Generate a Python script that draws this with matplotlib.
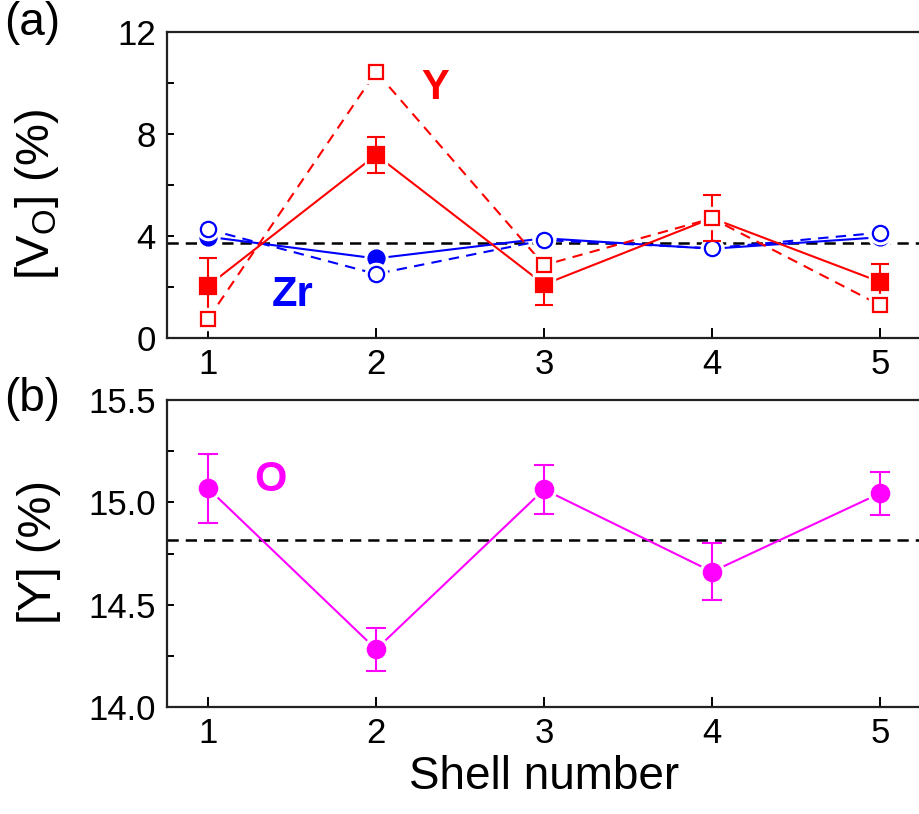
import matplotlib
matplotlib.use("Agg")
import matplotlib.pyplot as plt
from matplotlib.ticker import MultipleLocator, FormatStrFormatter

plt.rcParams['font.family'] = ['Liberation Sans', 'DejaVu Sans']
plt.rcParams['mathtext.fontset'] = 'custom'
plt.rcParams['mathtext.rm'] = 'Liberation Sans'

shells = [1, 2, 3, 4, 5]

y_filled = [2.05, 7.18, 2.1, 4.7, 2.2]
y_filled_err = [1.09, 0.71, 0.8, 0.9, 0.7]
y_open = [0.75, 10.44, 2.86, 4.69, 1.29]
zr_filled = [3.97, 3.12, 3.91, 3.5, 3.95]
zr_open = [4.26, 2.51, 3.84, 3.52, 4.13]
vo_mean = 3.71

o_vals = [15.068, 14.282, 15.063, 14.661, 15.044]
o_err = [0.168, 0.105, 0.12, 0.139, 0.105]
o_mean = 14.816

RED = '#ff0000'
BLUE = '#0000ff'
MAG = '#ff00ff'

fig = plt.figure(figsize=(9.19, 8.14), dpi=100)
ax1 = fig.add_axes([167/919, 1-338/814, (922-167)/919, 306/814])
ax2 = fig.add_axes([167/919, 1-707/814, (922-167)/919, 307/814])


def series(ax, x, y, color, marker, ms, filled, ls, err=None, cap=6, z=2):
    ax.plot(x, y, color=color, lw=1.5, ls=ls, dashes=(5, 3.5) if ls == '--' else (None, None), zorder=z)
    # white halo to create gaps around markers
    ax.plot(x, y, ls='none', marker=marker, ms=ms + 5, mfc='white', mec='white', zorder=z + 0.1)
    if err is not None:
        ax.errorbar(x, y, yerr=err, fmt='none', ecolor=color, elinewidth=1.5,
                    capsize=cap, capthick=1.5, zorder=z + 0.2)
    ax.plot(x, y, ls='none', marker=marker, ms=ms,
            mfc=color if filled else 'white', mec=color, mew=1.6, zorder=z + 0.3)


# Panel (a)
ax1.axhline(vo_mean, color='black', lw=1.8, ls=(0, (4.5, 2.8)), zorder=1)
series(ax1, shells, zr_filled, BLUE, 'o', 11.5, True, '-', z=2)
series(ax1, shells, zr_open, BLUE, 'o', 11, False, '--', z=3)
series(ax1, shells, y_filled, RED, 's', 11.5, True, '-', err=y_filled_err, cap=6.5, z=4)
series(ax1, shells, y_open, RED, 's', 10.5, False, '--', z=5)

ax1.set_xlim(0.755, 5.25)
ax1.set_ylim(0, 12)
ax1.yaxis.set_major_locator(MultipleLocator(4))
ax1.yaxis.set_minor_locator(MultipleLocator(2))
ax1.set_xticks(shells)
ax1.set_ylabel(r'[V$_\mathrm{O}$] (%)', fontsize=34)
ax1.yaxis.set_label_coords(-0.14, 0.47)
ax1.text(2.35, 9.8, 'Y', color=RED, fontsize=30, fontweight='bold', ha='center', va='center')
ax1.text(1.5, 1.69, 'Zr', color=BLUE, fontsize=30, fontweight='bold', ha='center', va='center')

# Panel (b)
ax2.axhline(o_mean, color='black', lw=1.8, ls=(0, (4.5, 2.8)), zorder=1)
series(ax2, shells, o_vals, MAG, 'o', 12.5, True, '-', err=o_err, cap=7.5, z=2)
ax2.set_xlim(0.755, 5.25)
ax2.set_ylim(14.0, 15.5)
ax2.yaxis.set_major_locator(MultipleLocator(0.5))
ax2.yaxis.set_minor_locator(MultipleLocator(0.25))
ax2.yaxis.set_major_formatter(FormatStrFormatter('%.1f'))
ax2.set_xticks(shells)
ax2.set_ylabel('[Y] (%)', fontsize=34)
ax2.yaxis.set_label_coords(-0.14, 0.505)
ax2.set_xlabel('Shell number', fontsize=33, labelpad=4)
ax2.text(1.37, 15.107, 'O', color=MAG, fontsize=30, fontweight='bold', ha='center', va='center')

for ax in (ax1, ax2):
    for s in ax.spines.values():
        s.set_linewidth(1.6)
        s.set_color('#222222')
    ax.tick_params(axis='both', which='both', direction='in', labelsize=25,
                   width=1.4, top=False, right=False)
    ax.tick_params(axis='x', which='major', length=7, pad=7)
    ax.tick_params(axis='y', which='major', length=5, pad=8)
    ax.tick_params(axis='y', which='minor', length=5)
    ax.tick_params(axis='x', which='minor', bottom=False)

fig.text(0.004, 1 - 1/814, '(a)', fontsize=33, ha='left', va='top')
fig.text(0.004, 1 - 377/814, '(b)', fontsize=33, ha='left', va='top')

fig.savefig('out.png', dpi=100)
